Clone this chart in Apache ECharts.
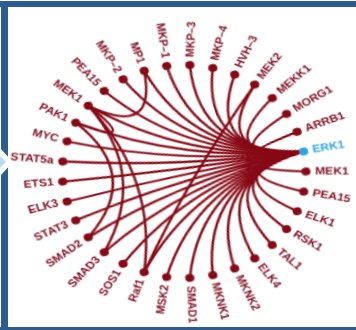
<!DOCTYPE html>
<html>
<head>
<meta charset="utf-8">
<script src="https://cdn.jsdelivr.net/npm/echarts@6/dist/echarts.min.js"></script>
<style>
  html, body { margin: 0; padding: 0; background: #fff; overflow: hidden; }
  #stage { position: relative; width: 356px; height: 330px; overflow: hidden; background: #fff; }
  #chart {
    position: absolute; left: 0; top: 0; width: 356px; height: 330px;
    transform-origin: 184px 171.5px;
  }
  .band { position: absolute; background: #2d5c93; }
  #notch { position: absolute; left: 0; top: 146px; }
</style>
</head>
<body>
<div id="stage">
  <div id="chart"></div>
  <div class="band" style="left:0;top:1px;width:356px;height:6px"></div>
  <div class="band" style="left:1px;top:1px;width:7px;height:329px"></div>
  <div class="band" style="left:0;top:327px;width:356px;height:3px"></div>
  <svg id="notch" width="16" height="32">
    <polygon points="0,2 13,16 0,30" fill="#ffffff"/>
    <polygon points="0,10 6,16 0,22" fill="#b9dcf2"/>
  </svg>
</div>
<script>
// Ring of interaction partners, clockwise, starting at the hub.
const nodeIds = [
  'ERK1', 'MEK1', 'PEA15', 'ELK1', 'RSK1', 'TAL1', 'ELK4', 'MKNK2', 'MKNK1',
  'SMAD1', 'MSK2', 'Raf1', 'SOS1', 'SMAD3', 'SMAD2', 'STAT3', 'ELK3', 'ETS1',
  'STAT5a', 'MYC', 'PAK1', 'MEK1#2', 'PEA15#2', 'MKP\u20132', 'MP1', 'MKP\u20131',
  'MKP\u20133', 'MKP\u20134', 'HVH\u20133', 'MEK2', 'MEKK1', 'MORG1', 'ARRB1'
];
const hub = 'ERK1';
// Interactions that do not involve the hub.
const crossLinks = [
  ['MEK1#2', 'MP1'],
  ['MEK1#2', 'Raf1'],
  ['MEK2', 'Raf1'],
  ['SMAD2', 'PAK1'],
  ['SMAD3', 'MEK1#2'],
  ['PAK1', 'MEK1#2']
];

const RED = '#860915';
const TEXT_RED = '#7c0a1c';
const BLUE = '#2fa3e3';
const CX = 184, CY = 171.5, R = 106.6;   // ring centre and radius in the chart box
const STRETCH = 1.143;                   // horizontal stretch of the ring

const n = nodeIds.length;
const step = 360 / n;
// The circular layout puts node 0 half a step below the horizontal;
// turn the ring so the hub sits one step above it.
const ringTurn = -(0.5 + 1) * step;
document.getElementById('chart').style.transform =
  'scaleX(' + STRETCH + ') rotate(' + ringTurn + 'deg)';

// Radial labels: outward on the right half, flipped on the left half.
function labelFor(i, isHub) {
  const pre = (i + 0.5) * step;           // clockwise angle given by the layout
  const fin = pre + ringTurn;             // angle after turning the ring
  const left = Math.cos(fin * Math.PI / 180) < 0;
  let rot = left ? 180 - pre : -pre;
  while (rot > 180) rot -= 360;
  while (rot <= -180) rot += 360;
  return {
    position: 'inside',
    align: left ? 'right' : 'left',
    verticalAlign: 'middle',
    padding: left ? [0, 8, 0, 0] : [0, 0, 0, 8],
    rotate: rot,
    color: isHub ? BLUE : TEXT_RED
  };
}

const nodes = nodeIds.map((id, i) => ({
  id: id,
  name: id.split('#')[0],
  itemStyle: id === hub ? { color: BLUE } : undefined,
  label: labelFor(i, id === hub)
}));

// Hub spokes bend toward the centre; other links bend a little less.
const links = nodeIds.filter(id => id !== hub)
  .map(id => ({ source: hub, target: id }))
  .concat(crossLinks.map(p => ({ source: p[0], target: p[1], lineStyle: { curveness: 0.2 } })));

const chart = echarts.init(document.getElementById('chart'), null, { renderer: 'canvas' });
chart.setOption({
  animation: false,
  series: [{
    type: 'graph',
    layout: 'circular',
    circular: { rotateLabel: false },
    left: CX - R, top: CY - R, width: 2 * R, height: 2 * R,
    roam: false,
    symbol: 'circle',
    symbolSize: 8,
    itemStyle: { color: RED },
    lineStyle: { color: RED, width: 2.2, opacity: 1, curveness: 0.25 },
    label: {
      show: true,
      fontFamily: 'Liberation Sans, Arial, sans-serif',
      fontWeight: 'bold',
      fontSize: 10.6,
      color: TEXT_RED
    },
    emphasis: { disabled: true },
    data: nodes,
    links: links
  }]
});
</script>
</body>
</html>
